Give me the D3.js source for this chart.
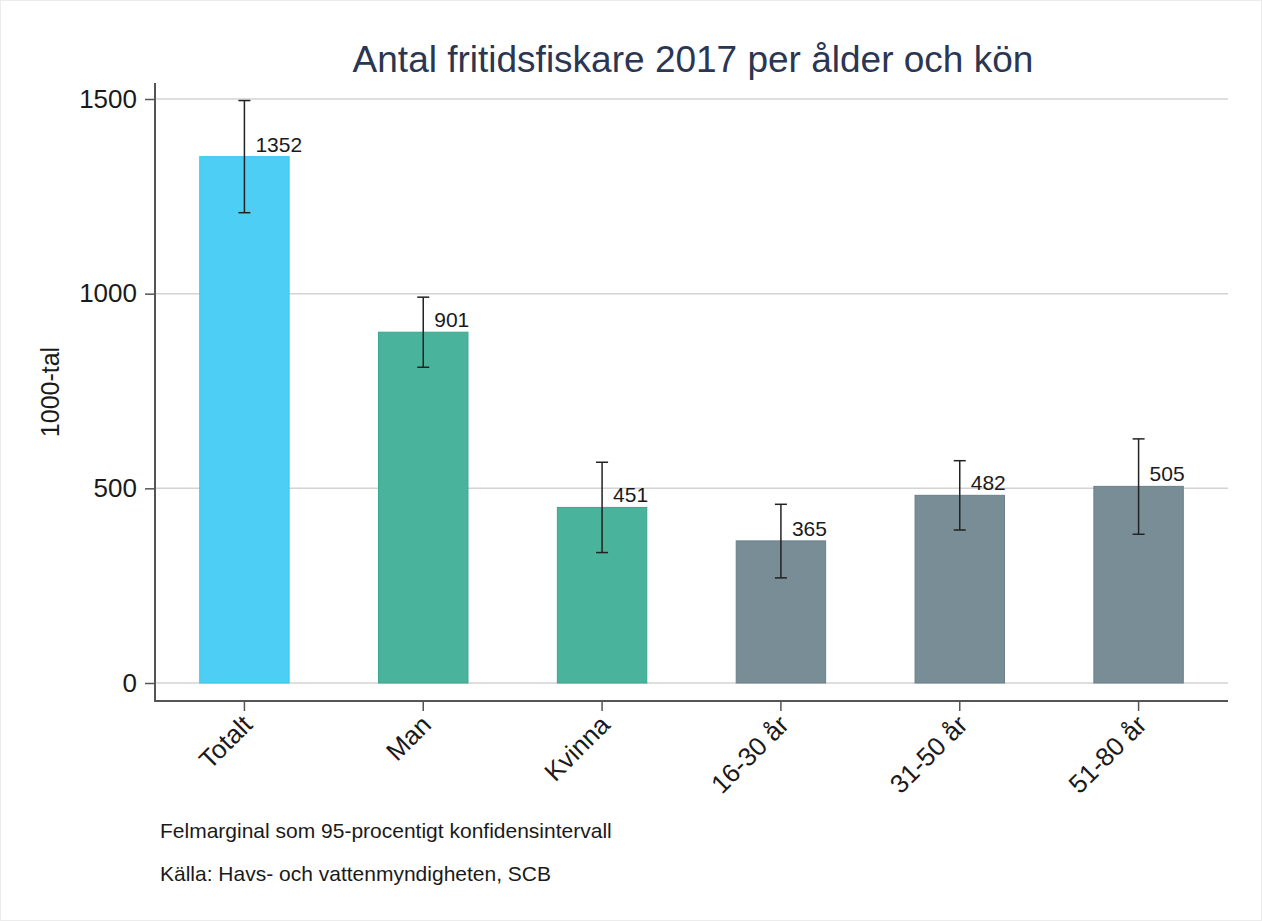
<!DOCTYPE html>
<html>
<head>
<meta charset="utf-8">
<script src="https://cdn.jsdelivr.net/npm/d3@7"></script>
<style>
  body { margin: 0; background: #fff; }
  svg { display: block; font-family: "Liberation Sans", Arial, sans-serif; }
</style>
</head>
<body>
<div id="chart"></div>
<script>
// categories and values (1000-tal)
const categories = ["Totalt", "Man", "Kvinna", "16-30 år", "31-50 år", "51-80 år"];
const values = [1352, 901, 451, 365, 482, 505];
const lowerCI = [1208, 811, 335, 270, 393, 382];
const upperCI = [1496, 991, 567, 459, 571, 627];
const groups = ["total", "gender", "gender", "age", "age", "age"];
const yTicks = [0, 500, 1000, 1500];

const colors = { total: "#4dcff5", gender: "#49b39c", age: "#798d97" };
const strokes = { total: "#3fc4ec", gender: "#3aa68e", age: "#6b7f89" };

const W = 1262, H = 921;
const left = 155, right = 1228, axisY = 701;

const svg = d3.select("#chart").append("svg")
    .attr("width", W)
    .attr("height", H);

svg.append("rect")
    .attr("x", 0.5).attr("y", 0.5)
    .attr("width", W - 1).attr("height", H - 1)
    .attr("fill", "#fff")
    .attr("stroke", "#ececec");

// scales
const x = d3.scaleBand()
    .domain(categories)
    .range([left, right])
    .paddingInner(0.5)
    .paddingOuter(0.25);

const y = d3.scaleLinear()
    .domain([0, 1500])
    .range([683, 99]);

// gridlines
svg.append("g")
    .selectAll("line")
    .data(yTicks)
    .enter()
    .append("line")
    .attr("x1", left)
    .attr("x2", right)
    .attr("y1", d => y(d))
    .attr("y2", d => y(d))
    .attr("stroke", "#d3d3d3")
    .attr("stroke-width", 1.5);

// y axis
const yAxis = svg.append("g")
    .attr("transform", `translate(${left},0)`)
    .call(d3.axisLeft(y).tickValues(yTicks).tickFormat(d3.format("d")).tickSize(10).tickPadding(8));
yAxis.select(".domain").remove();
yAxis.selectAll(".tick line").attr("stroke", "#555").attr("stroke-width", 1.5);
yAxis.selectAll(".tick text")
    .style("font-size", "26px")
    .style("font-family", "'Liberation Sans', Arial, sans-serif")
    .attr("fill", "#1a1a1a");

svg.append("line")
    .attr("x1", left).attr("x2", left)
    .attr("y1", 83).attr("y2", axisY + 1)
    .attr("stroke", "#555")
    .attr("stroke-width", 2);

// x axis
const xAxis = svg.append("g")
    .attr("transform", `translate(0,${axisY})`)
    .call(d3.axisBottom(x).tickSize(10).tickSizeOuter(0));
xAxis.select(".domain").remove();
xAxis.selectAll(".tick line").attr("stroke", "#555").attr("stroke-width", 1.5);
xAxis.selectAll(".tick text")
    .style("font-size", "26px")
    .style("font-family", "'Liberation Sans', Arial, sans-serif")
    .attr("fill", "#1a1a1a")
    .attr("text-anchor", "end")
    .attr("dy", "0.35em")
    .attr("y", 0)
    .attr("transform", "translate(3,19)rotate(-45)");

svg.append("line")
    .attr("x1", left).attr("x2", right)
    .attr("y1", axisY).attr("y2", axisY)
    .attr("stroke", "#555")
    .attr("stroke-width", 2);

// bars
svg.append("g")
    .selectAll("rect")
    .data(categories)
    .enter()
    .append("rect")
    .attr("x", d => x(d))
    .attr("y", (d, i) => y(values[i]))
    .attr("width", x.bandwidth())
    .attr("height", (d, i) => y(0) - y(values[i]))
    .attr("fill", (d, i) => colors[groups[i]])
    .attr("stroke", (d, i) => strokes[groups[i]])
    .attr("stroke-width", 1);

// error bars
const cx = d => x(d) + x.bandwidth() / 2;
const err = svg.append("g")
    .attr("stroke", "#222")
    .attr("stroke-width", 1.5)
    .selectAll("g")
    .data(categories)
    .enter()
    .append("g");

err.append("line")
    .attr("x1", cx).attr("x2", cx)
    .attr("y1", (d, i) => y(upperCI[i]))
    .attr("y2", (d, i) => y(lowerCI[i]));
err.append("line")
    .attr("x1", d => cx(d) - 6).attr("x2", d => cx(d) + 6)
    .attr("y1", (d, i) => y(upperCI[i]))
    .attr("y2", (d, i) => y(upperCI[i]));
err.append("line")
    .attr("x1", d => cx(d) - 6).attr("x2", d => cx(d) + 6)
    .attr("y1", (d, i) => y(lowerCI[i]))
    .attr("y2", (d, i) => y(lowerCI[i]));

// value labels
svg.append("g")
    .selectAll("text")
    .data(categories)
    .enter()
    .append("text")
    .attr("x", d => cx(d) + 11)
    .attr("y", (d, i) => y(values[i]) - 5)
    .style("font-size", "21px")
    .attr("fill", "#1a1a1a")
    .text((d, i) => values[i]);

// title
svg.append("text")
    .attr("x", 693)
    .attr("y", 72)
    .attr("text-anchor", "middle")
    .style("font-size", "37px")
    .attr("fill", "#2a3652")
    .text("Antal fritidsfiskare 2017 per ålder och kön");

// y-axis label
svg.append("text")
    .attr("transform", "rotate(-90)")
    .attr("x", -392)
    .attr("y", 59)
    .attr("text-anchor", "middle")
    .style("font-size", "25px")
    .attr("fill", "#1a1a1a")
    .text("1000-tal");

// notes
svg.append("text")
    .attr("x", 160)
    .attr("y", 838)
    .style("font-size", "21px")
    .attr("fill", "#1a1a1a")
    .text("Felmarginal som 95-procentigt konfidensintervall");

svg.append("text")
    .attr("x", 160)
    .attr("y", 881)
    .style("font-size", "21px")
    .attr("fill", "#1a1a1a")
    .text("Källa: Havs- och vattenmyndigheten, SCB");
</script>
</body>
</html>
